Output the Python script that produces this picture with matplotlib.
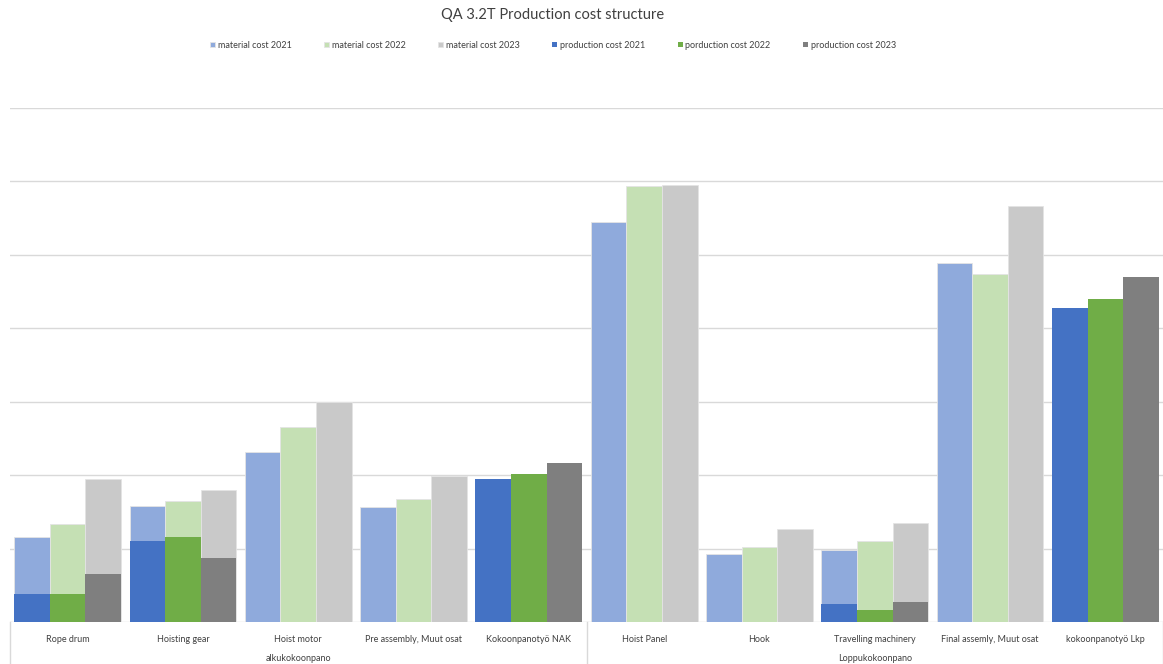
import numpy as np
import matplotlib
matplotlib.use('Agg')
import matplotlib.pyplot as plt
import matplotlib.transforms as mtransforms

plt.rcParams['font.family'] = ['Lato', 'DejaVu Sans']

categories = ['Rope drum', 'Hoisting gear', 'Hoist motor', 'Pre assembly, Muut osat',
              'Kokoonpanotyö NAK', 'Hoist Panel', 'Hook', 'Travelling machinery',
              'Final assemly, Muut osat', 'kokoonpanotyö Lkp']
groups = ['alkukokoonpano', 'Loppukokoonpano']

# values (unit = one gridline step)
material_2021 = [1.16, 1.58, 2.31, 1.56, 0, 5.44, 0.92, 0.98, 4.89, 0]
material_2022 = [1.33, 1.64, 2.66, 1.68, 0, 5.93, 1.02, 1.10, 4.74, 0]
material_2023 = [1.95, 1.79, 2.99, 1.99, 0, 5.95, 1.27, 1.35, 5.66, 0]
production_2021 = [0.38, 1.10, 0, 0, 1.95, 0, 0, 0.25, 0, 4.27]
production_2022 = [0.38, 1.15, 0, 0, 2.01, 0, 0, 0.17, 0, 4.39]
production_2023 = [0.65, 0.87, 0, 0, 2.16, 0, 0, 0.27, 0, 4.70]

mat_colors = ['#8faadc', '#c5e0b4', '#c9c9c9']
prod_colors = ['#4472c4', '#70ad47', '#7f7f7f']

fig = plt.figure(figsize=(11.63, 6.64), dpi=100)
ax = fig.add_axes([10 / 1163, 42 / 664, 1 - 10 / 1163, (664 - 42 - 107.6) / 664])

x = np.arange(len(categories))
w = 0.309
offsets = [-w, 0, w]

mats = [material_2021, material_2022, material_2023]
prods = [production_2021, production_2022, production_2023]
mat_labels = ['material cost 2021', 'material cost 2022', 'material cost 2023']
prod_labels = ['production cost 2021', 'porduction cost 2022', 'production cost 2023']

handles = []
for i in range(3):
    h = ax.bar(x + offsets[i], mats[i], w, color=mat_colors[i], edgecolor='#e4e4e4',
               linewidth=0.6, zorder=2, label=mat_labels[i])
    handles.append(h)
for i in range(3):
    h = ax.bar(x + offsets[i], prods[i], w, color=prod_colors[i], edgecolor='none',
               zorder=3, label=prod_labels[i])
    handles.append(h)

ax.set_xlim(-0.5, len(categories) - 0.5)
ax.set_ylim(0, 7)
ax.set_yticks(np.arange(0, 8))
ax.yaxis.grid(True, color='#d9d9d9', linewidth=1)
ax.set_axisbelow(True)
ax.tick_params(left=False, labelleft=False, bottom=False)
ax.set_xticks(x)
ax.set_xticklabels(categories, fontsize=6.5, color='#404040')
ax.tick_params(axis='x', pad=6)
for s in ax.spines.values():
    s.set_visible(False)

# group labels and separators under the category axis
trans = mtransforms.blended_transform_factory(ax.transData, ax.transAxes)
ax.text(2, -0.07, groups[0], transform=trans, ha='center', va='center',
        fontsize=6.5, color='#404040')
ax.text(7, -0.07, groups[1], transform=trans, ha='center', va='center',
        fontsize=6.5, color='#404040')
for xs in [-0.5, 4.5, 9.5]:
    ax.plot([xs, xs], [0, -0.12], transform=trans, color='#d9d9d9', lw=1, clip_on=False)

fig.suptitle('QA 3.2T Production cost structure', x=553 / 1163, y=1 - 8 / 664,
             va='top', fontsize=10.5, color='#404040')
fig.legend(handles=handles, loc='center', bbox_to_anchor=(553 / 1163, 1 - 45 / 664),
           ncol=6, frameon=False, fontsize=6.5, handlelength=0.55, handleheight=0.55,
           handletextpad=0.3, columnspacing=3.6, labelcolor='#404040')

fig.savefig('out.png', dpi=100)
